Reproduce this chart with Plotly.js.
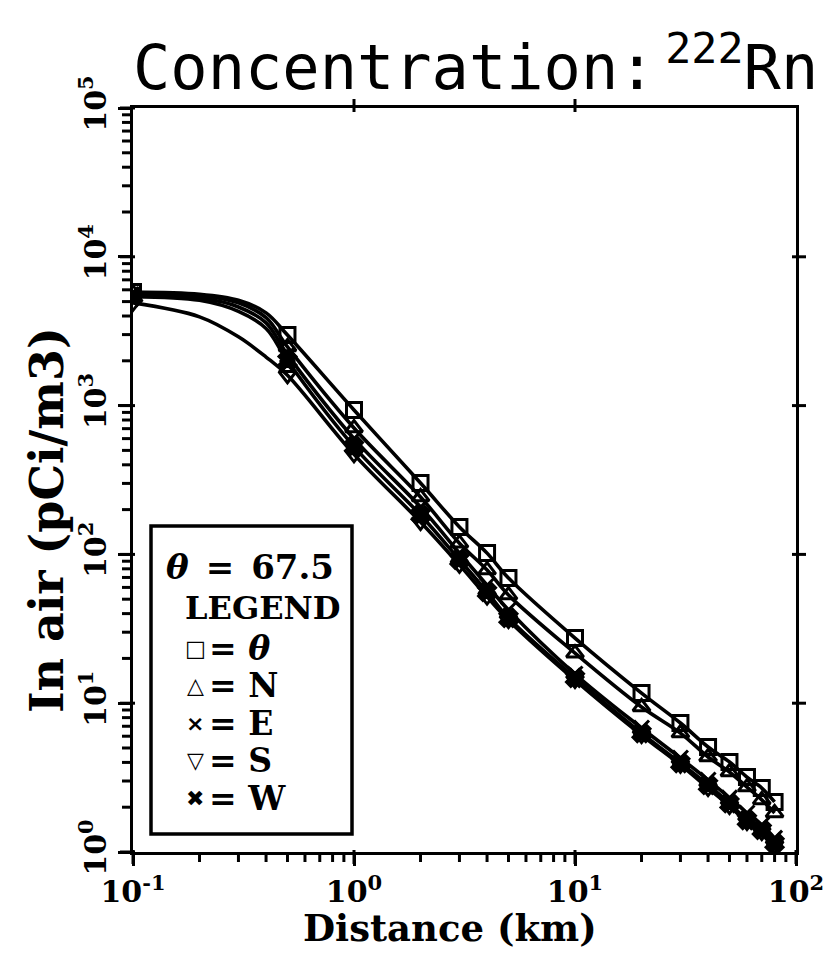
<!DOCTYPE html>
<html>
<head>
<meta charset="utf-8">
<script src="https://cdn.plot.ly/plotly-3.0.1.min.js"></script>
<style>
  html, body { margin: 0; padding: 0; background: #fff; }
  #chart { width: 835px; height: 958px; }
</style>
</head>
<body>
<div id="chart"></div>
<script>
// Downwind distances (km) along which each curve is traced
const distance = [0.1, 0.2, 0.3, 0.4, 0.5, 1, 2, 3, 4, 5, 10, 20, 30, 40, 50, 60, 70, 80];
// Distances that carry a plotted symbol
const markedDistance = [0.1, 0.5, 1, 2, 3, 4, 5, 10, 20, 30, 40, 50, 60, 70, 80];

// 222Rn concentration in air (pCi/m3) for each direction
const concTheta = [5800, 5600, 5100, 4200, 2980, 934, 302, 153, 102, 69.4, 27.4, 11.7, 7.36, 5.08, 4.03, 3.19, 2.69, 2.17];
const concN     = [5700, 5500, 4900, 3900, 2480, 707, 243, 119, 78.5, 53.3, 21.7, 9.43, 6.3, 4.35, 3.45, 2.73, 2.24, 1.83];
const concE     = [5600, 5300, 4600, 3600, 2200, 600, 208, 102, 62, 42.3, 15.7, 6.81, 4.28, 3.05, 2.31, 1.83, 1.52, 1.24];
const concS     = [4900, 3950, 2900, 2120, 1600, 470, 165, 85, 52, 36.2, 14.3, 6.11, 3.85, 2.69, 2.04, 1.59, 1.36, 1.11];
const concW     = [5400, 5100, 4300, 3300, 2000, 530, 184, 92, 56, 37.4, 14.8, 6.3, 3.96, 2.82, 2.13, 1.64, 1.41, 1.15];

const seriesNames = ['θ', 'N', 'E', 'S', 'W'];
const seriesValues = [concTheta, concN, concE, concS, concW];
const seriesSymbols = ['square-open', 'triangle-up-open', 'x-thin-open', 'triangle-down-open', 'x'];
const legendGlyphs = ['□', '△', '×', '▽', '✖'];

const thetaValue = '67.5';
const xTitle = 'Distance (km)';
const yTitle = 'In air (pCi/m3)';

// Decade tick values and their labels
const xDecades = [0.1, 1, 10, 100];
const xDecadeText = ['10<sup>-1</sup>', '10<sup>0</sup>', '10<sup>1</sup>', '10<sup>2</sup>'];
const yDecades = [1, 10, 100, 1000, 10000, 100000];
const yDecadeText = ['10<sup>0</sup>', '10<sup>1</sup>', '10<sup>2</sup>', '10<sup>3</sup>', '10<sup>4</sup>', '10<sup>5</sup>'];

const xRange = [-1, 2];   // log10 of the distance range
const yRange = [0, 5];    // log10 of the concentration range

// Minor ticks at 2..9 within every decade of an axis
function minorTicks(decades) {
  const out = [];
  decades.slice(0, -1).forEach(d => { for (let m = 2; m <= 9; m++) out.push(m * d); });
  return out;
}

// Frame geometry (pixels inside the 835 x 958 page)
const W = 835, H = 958;
const L = 133, R = 796, T = 108, B = 852;
const fx = p => (p - L) / (R - L);
const fy = p => (B - p) / (B - T);
// fraction along an axis for a value on a log scale
const xFrac = v => (Math.log10(v) - xRange[0]) / (xRange[1] - xRange[0]);
const yFrac = v => (Math.log10(v) - yRange[0]) / (yRange[1] - yRange[0]);

const serif = 'DejaVu Serif';
const ink = '#000';
const gap = '\u2002';

const traces = [];
seriesValues.forEach((vals, i) => {
  traces.push({
    x: distance, y: vals, type: 'scatter', mode: 'lines',
    line: { color: ink, width: 3.6, shape: 'spline', smoothing: 1 },
    hoverinfo: 'skip', showlegend: false
  });
  const mx = [], my = [];
  distance.forEach((d, k) => {
    if (markedDistance.includes(d)) { mx.push(d); my.push(vals[k]); }
  });
  traces.push({
    x: mx, y: my, type: 'scatter', mode: 'markers', name: seriesNames[i],
    marker: { symbol: seriesSymbols[i], size: 15, color: ink, line: { color: ink, width: 3 } },
    showlegend: false
  });
});

const tickFont = { family: serif, size: 30, weight: 'bold', color: ink };

const annotations = [
  {
    text: 'Concentration:<span style="font-size:16px"> </span><sup>222</sup>Rn', xref: 'paper', yref: 'paper',
    x: fx(131), y: fy(106), xanchor: 'left', yanchor: 'bottom', showarrow: false,
    font: { family: 'DejaVu Sans Mono', size: 62, color: ink }
  },
  {
    text: xTitle, xref: 'paper', yref: 'paper',
    x: fx(450), y: fy(928), xanchor: 'center', yanchor: 'middle', showarrow: false,
    font: { family: serif, size: 37, weight: 'bold', color: ink }
  },
  {
    text: yTitle, xref: 'paper', yref: 'paper', textangle: -90,
    x: fx(47), y: fy(520), xanchor: 'center', yanchor: 'middle', showarrow: false,
    font: { family: serif, size: 46, weight: 'bold', color: ink }
  },
  {
    text: '<i>θ</i>' + gap + '=' + gap + thetaValue, xref: 'paper', yref: 'paper',
    x: fx(164), y: fy(567), xanchor: 'left', yanchor: 'middle', showarrow: false,
    font: { family: serif, size: 34, weight: 'bold', color: ink }
  },
  {
    text: 'LEGEND', xref: 'paper', yref: 'paper',
    x: fx(183), y: fy(608), xanchor: 'left', yanchor: 'middle', showarrow: false,
    font: { family: serif, size: 32, weight: 'bold', color: ink }
  }
];
seriesNames.forEach((nm, i) => {
  const rowY = 648 + i * 37.5;
  annotations.push({
    text: legendGlyphs[i], xref: 'paper', yref: 'paper',
    x: fx(195), y: fy(rowY), xanchor: 'center', yanchor: 'middle', showarrow: false,
    font: { family: 'DejaVu Sans', size: 22, weight: 'bold', color: ink }
  });
  annotations.push({
    text: '= ' + (nm === 'θ' ? '<i>θ</i>' : nm), xref: 'paper', yref: 'paper',
    x: fx(207), y: fy(rowY), xanchor: 'left', yanchor: 'middle', showarrow: false,
    font: { family: serif, size: 33, weight: 'bold', color: ink }
  });
});

// Tick marks drawn as pixel-length strokes anchored on the frame edges
const tickStroke = { color: ink, width: 3 };
const shapes = [];
function xTick(v, anchor, a, b) {
  shapes.push({ type: 'line', xref: 'paper', yref: 'paper', ysizemode: 'pixel', yanchor: anchor,
    x0: xFrac(v), x1: xFrac(v), y0: a, y1: b, line: tickStroke });
}
function yTick(v, anchor, a, b) {
  shapes.push({ type: 'line', xref: 'paper', yref: 'paper', xsizemode: 'pixel', xanchor: anchor,
    y0: yFrac(v), y1: yFrac(v), x0: a, x1: b, line: tickStroke });
}
xDecades.forEach(v => xTick(v, 0, 2, -12));
minorTicks(xDecades).forEach(v => xTick(v, 0, 0, -10));
yDecades.forEach(v => yTick(v, 0, 2, -13));
minorTicks(yDecades).forEach(v => yTick(v, 0, 0, -11));
xDecades.slice(1, -1).forEach(v => xTick(v, 1, -4, 9));
yDecades.slice(1, -1).forEach(v => yTick(v, 1, -4, 10));

shapes.push({ type: 'rect', xref: 'paper', yref: 'paper', x0: fx(151), x1: fx(352), y0: fy(834), y1: fy(526),
  line: { color: ink, width: 3.5 }, fillcolor: 'rgba(0,0,0,0)' });

const layout = {
  width: W, height: H,
  margin: { l: L, r: W - R, t: T, b: H - B },
  paper_bgcolor: '#fff', plot_bgcolor: '#fff',
  showlegend: false,
  xaxis: {
    type: 'log', range: xRange, tickmode: 'array', tickvals: xDecades, ticktext: xDecadeText,
    ticks: 'outside', ticklen: 11, tickwidth: 3, tickcolor: ink,
    showline: true, linewidth: 3.2, linecolor: ink, mirror: true,
    showgrid: false, zeroline: false, tickfont: tickFont, automargin: false
  },
  yaxis: {
    type: 'log', range: yRange, tickmode: 'array', tickvals: yDecades, ticktext: yDecadeText,
    ticks: 'outside', ticklen: 12, tickwidth: 3, tickcolor: ink, tickangle: -90,
    showline: true, linewidth: 3.2, linecolor: ink, mirror: true,
    showgrid: false, zeroline: false, tickfont: tickFont, automargin: false
  },
  shapes: shapes,
  annotations: annotations
};

Plotly.newPlot('chart', traces, layout, { displayModeBar: false, staticPlot: true });
</script>
</body>
</html>
